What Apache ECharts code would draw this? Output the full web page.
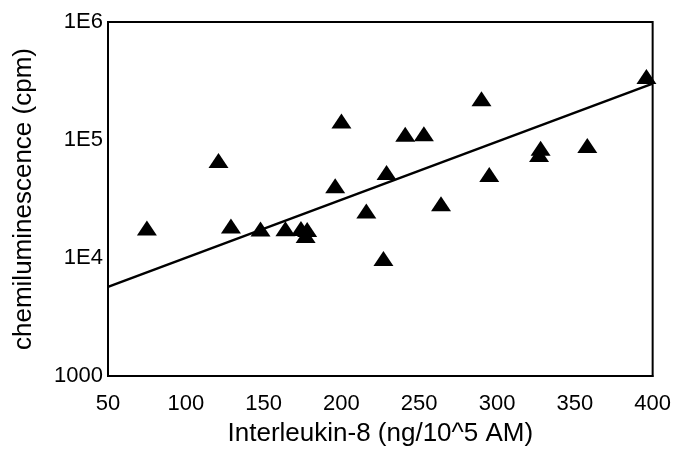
<!DOCTYPE html>
<html>
<head>
<meta charset="utf-8">
<script src="https://cdn.jsdelivr.net/npm/echarts@6/dist/echarts.min.js"></script>
<style>
html,body{margin:0;padding:0;background:#fff;}
#chart{width:674px;height:452px;}
</style>
</head>
<body>
<div id="chart"></div>
<script>
// Scatter data: Interleukin-8 (x) vs chemiluminescence (y)
var il8 = [75, 121, 129, 148, 164, 174, 178, 177, 196, 200, 216, 227, 229, 241, 253, 264, 290, 295, 328, 327, 358, 396];
var chemi = [18000, 67000, 18700, 17600, 17700, 17800, 17400, 15500, 41000, 145000, 25000, 9900, 53000, 112000, 113000, 28800, 224000, 51000, 85000, 75500, 90000, 345000];
// Regression line endpoints
var fitX = [50, 400];
var fitY = [5700, 300000];
// Axis tick labels
var xTicks = [50, 100, 150, 200, 250, 300, 350, 400];
var yTickValues = [1000, 10000, 100000, 1000000];
var yTickLabels = ['1000', '1E4', '1E5', '1E6'];

var points = il8.map(function (x, i) { return [x, chemi[i]]; });
var fit = fitX.map(function (x, i) { return [x, fitY[i]]; });
var font = 'Liberation Sans, Arial, sans-serif';

var chart = echarts.init(document.getElementById('chart'), null, {renderer: 'canvas'});
chart.setOption({
  animation: false,
  backgroundColor: '#fff',
  grid: {
    left: 108, right: 16, top: 22, bottom: 75,
    show: true, borderColor: '#000', borderWidth: 2, backgroundColor: 'transparent'
  },
  xAxis: {
    type: 'value', min: xTicks[0], max: xTicks[xTicks.length - 1], interval: 50,
    name: 'Interleukin-8 (ng/10^5 AM)', nameLocation: 'middle', nameGap: 45,
    nameTextStyle: {fontFamily: font, fontSize: 26, color: '#000'},
    axisLine: {show: true, lineStyle: {color: '#000', width: 2}},
    axisTick: {show: false},
    splitLine: {show: false},
    axisLabel: {fontFamily: font, fontSize: 22, color: '#000', margin: 17,
      formatter: function (v) { return xTicks.indexOf(v) >= 0 ? String(v) : ''; }}
  },
  yAxis: {
    type: 'log', logBase: 10, min: yTickValues[0], max: yTickValues[yTickValues.length - 1],
    name: 'chemiluminescence (cpm)', nameLocation: 'middle', nameGap: 71,
    nameTextStyle: {fontFamily: font, fontSize: 26, color: '#000'},
    axisLine: {show: true, lineStyle: {color: '#000', width: 2}},
    axisTick: {show: false},
    splitLine: {show: false},
    axisLabel: {fontFamily: font, fontSize: 22, color: '#000', margin: 5,
      formatter: function (v) {
        var i = yTickValues.indexOf(Math.round(v));
        return i >= 0 ? yTickLabels[i] : '';
      }}
  },
  series: [
    {
      type: 'line', data: fit, symbol: 'none', silent: true,
      lineStyle: {color: '#000', width: 2.5}, z: 2
    },
    {
      type: 'scatter', data: points, symbol: 'triangle', symbolSize: [20, 15],
      itemStyle: {color: '#000', opacity: 1}, z: 3
    }
  ]
});
</script>
</body>
</html>
